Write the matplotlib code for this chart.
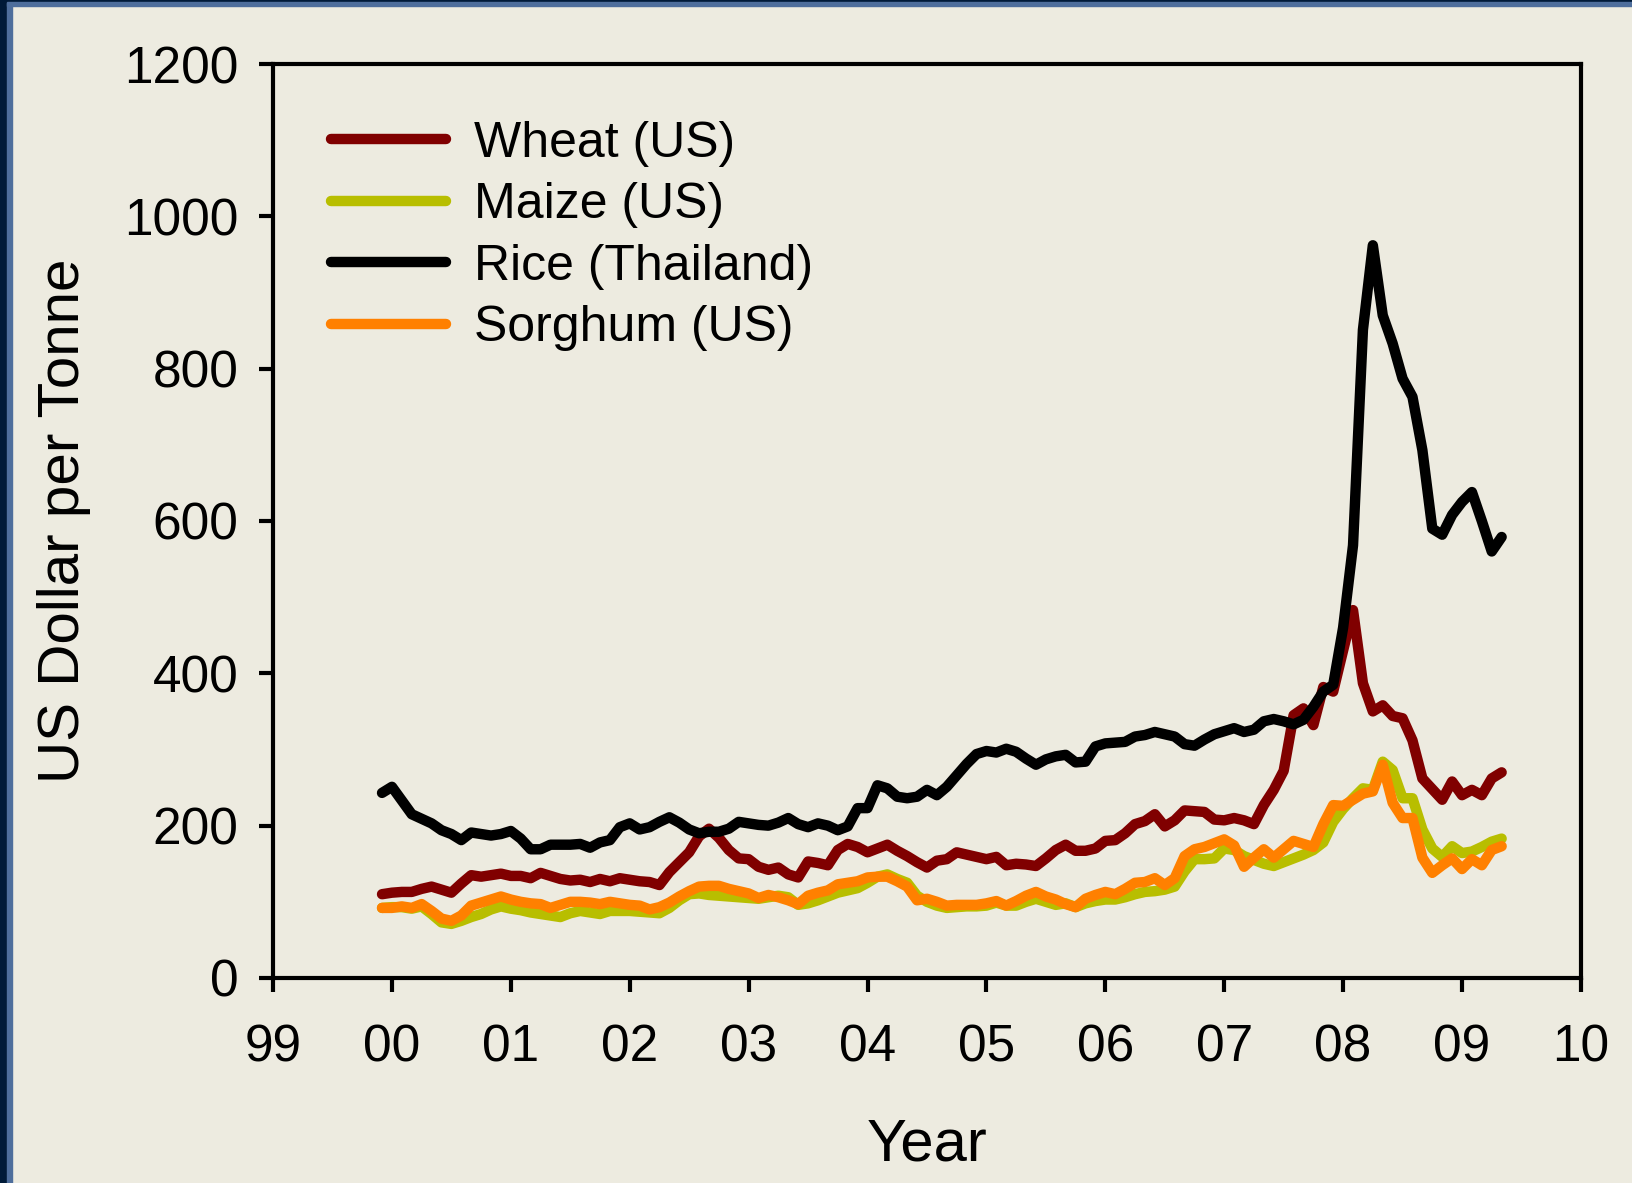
import numpy as np
import matplotlib
matplotlib.use('Agg')
import matplotlib.pyplot as plt
from matplotlib.patches import Rectangle

plt.rcParams['font.family'] = ['Liberation Sans', 'DejaVu Sans']

# Monthly prices, Jan 2000 - Jun 2009 (US$ per tonne)
wheat = [110, 112, 113, 113, 117, 120, 116, 112, 124, 135, 133, 135,
         137, 134, 134, 131, 138, 134, 130, 128, 129, 126, 130, 127,
         131, 129, 127, 126, 122, 139, 152, 165, 186, 196, 184, 168,
         157, 156, 146, 142, 145, 136, 132, 153, 151, 148, 168, 176,
         172, 165, 170, 175, 167, 160, 152, 145, 154, 156, 165, 162,
         159, 156, 159, 148, 150, 149, 147, 157, 168, 175, 167, 167,
         170, 180, 181, 190, 202, 206, 215, 199, 207, 220, 219, 218,
         208, 207, 210, 207, 202, 227, 247, 272, 345, 354, 332, 382,
         376, 430, 483, 387, 350, 358, 344, 341, 312, 262, 248, 234,
         258, 240, 247, 240, 262, 270]

maize = [92, 93, 93, 91, 94, 84, 73, 71, 75, 80, 84, 90,
         94, 91, 89, 86, 84, 82, 80, 85, 88, 86, 84, 88,
         88, 88, 87, 86, 85, 92, 102, 110, 111, 109, 108, 107,
         106, 105, 104, 106, 108, 106, 96, 98, 102, 107, 112, 115,
         118, 125, 133, 136, 130, 125, 108, 100, 95, 92, 93, 94,
         94, 95, 99, 95, 95, 100, 104, 100, 96, 98, 93, 98,
         101, 103, 103, 106, 110, 113, 114, 116, 120, 140, 156, 156,
         157, 170, 168, 160, 155, 150, 147, 152, 157, 162, 168, 178,
         205, 222, 236, 249, 247, 284, 273, 236, 236, 195, 170, 159,
         173, 164, 166, 172, 179, 183]

rice = [243, 251, 233, 215, 209, 203, 194, 189, 181, 191, 189, 187,
        189, 193, 183, 169, 169, 175, 175, 175, 176, 171, 178, 181,
        198, 203, 195, 198, 205, 211, 204, 195, 190, 192, 192, 196,
        205, 203, 201, 200, 204, 210, 202, 198, 203, 200, 194, 199,
        223, 223, 253, 249, 238, 236, 238, 247, 240, 251, 266, 281,
        294, 298, 296, 301, 297, 288, 280, 287, 291, 293, 283, 284,
        304, 308, 309, 310, 317, 319, 323, 320, 317, 307, 305, 313,
        320, 324, 328, 323, 326, 337, 340, 337, 333, 339, 356, 376,
        385, 460, 568, 851, 962, 870, 833, 787, 763, 693, 590, 582,
        608, 625, 638, 600, 560, 579]

sorghum = [92, 92, 94, 92, 97, 88, 78, 75, 82, 95, 99, 103,
           107, 103, 100, 98, 97, 92, 96, 100, 100, 99, 97, 100,
           98, 96, 95, 90, 93, 99, 107, 114, 120, 121, 121, 117,
           114, 111, 105, 109, 106, 102, 97, 108, 112, 115, 123, 125,
           127, 132, 133, 133, 127, 120, 102, 104, 100, 95, 96, 96,
           96, 98, 101, 95, 101, 108, 113, 107, 103, 97, 93, 104,
           109, 113, 110, 117, 125, 126, 131, 122, 131, 160, 169, 172,
           177, 182, 174, 146, 158, 169, 158, 169, 180, 176, 172, 202,
           227, 226, 234, 242, 245, 280, 230, 210, 210, 158, 138, 148,
           157, 143, 156, 148, 168, 173]

labels = ['Wheat (US)', 'Maize (US)', 'Rice (Thailand)', 'Sorghum (US)']
colors = ['#800000', '#B8BE00', '#000000', '#FF8000']
year_ticks = list(range(1999, 2011))
year_labels = ['99', '00', '01', '02', '03', '04', '05', '06', '07', '08', '09', '10']

# months placed on a decimal-year axis, first month just before the 00 tick
x = 1999 + 11 / 12 + np.arange(len(wheat)) / 12

bg = '#EDEBE0'
fig = plt.figure(figsize=(16.33, 11.83), dpi=100, facecolor=bg)
ax = fig.add_axes([0.1672, 0.1733, 0.8009, 0.7726], facecolor=bg)

for series, lab, col in zip([wheat, maize, rice, sorghum], labels, colors):
    ax.plot(x, series, color=col, lw=7.5, label=lab,
            solid_joinstyle='round', solid_capstyle='round')

ax.set_xlim(1999, 2010)
ax.set_ylim(0, 1200)
ax.set_xticks(year_ticks)
ax.set_xticklabels(year_labels)
ax.set_yticks(range(0, 1201, 200))

for s in ax.spines.values():
    s.set_linewidth(3)
ax.tick_params(direction='out', length=10, width=3, labelsize=37)
ax.tick_params(axis='x', pad=23)
ax.tick_params(axis='y', pad=15)

ax.set_xlabel('Year', fontsize=43, labelpad=32)
ax.set_ylabel('US Dollar per Tonne', fontsize=42, labelpad=24)

leg = ax.legend(loc='upper left', bbox_to_anchor=(0.044, 0.938), frameon=False,
                fontsize=36, handlelength=2.3, handletextpad=0.56,
                labelspacing=0.31, borderpad=0, borderaxespad=0)

# window frame on the left and top edges
W, H = 1633, 1183
fig.patches.append(Rectangle((0, 0), 7 / W, 1, transform=fig.transFigure,
                             color='#001A38', zorder=10))
fig.patches.append(Rectangle((7 / W, 0), 5 / W, 1 - 2 / H, transform=fig.transFigure,
                             color='#4E6E9C', zorder=10))
fig.patches.append(Rectangle((0, 1 - 2 / H), 1, 2 / H, transform=fig.transFigure,
                             color='#001A38', zorder=10))
fig.patches.append(Rectangle((7 / W, 1 - 6 / H), 1, 4 / H, transform=fig.transFigure,
                             color='#4E6E9C', zorder=10))

fig.savefig('out.png', dpi=100, facecolor=bg)
